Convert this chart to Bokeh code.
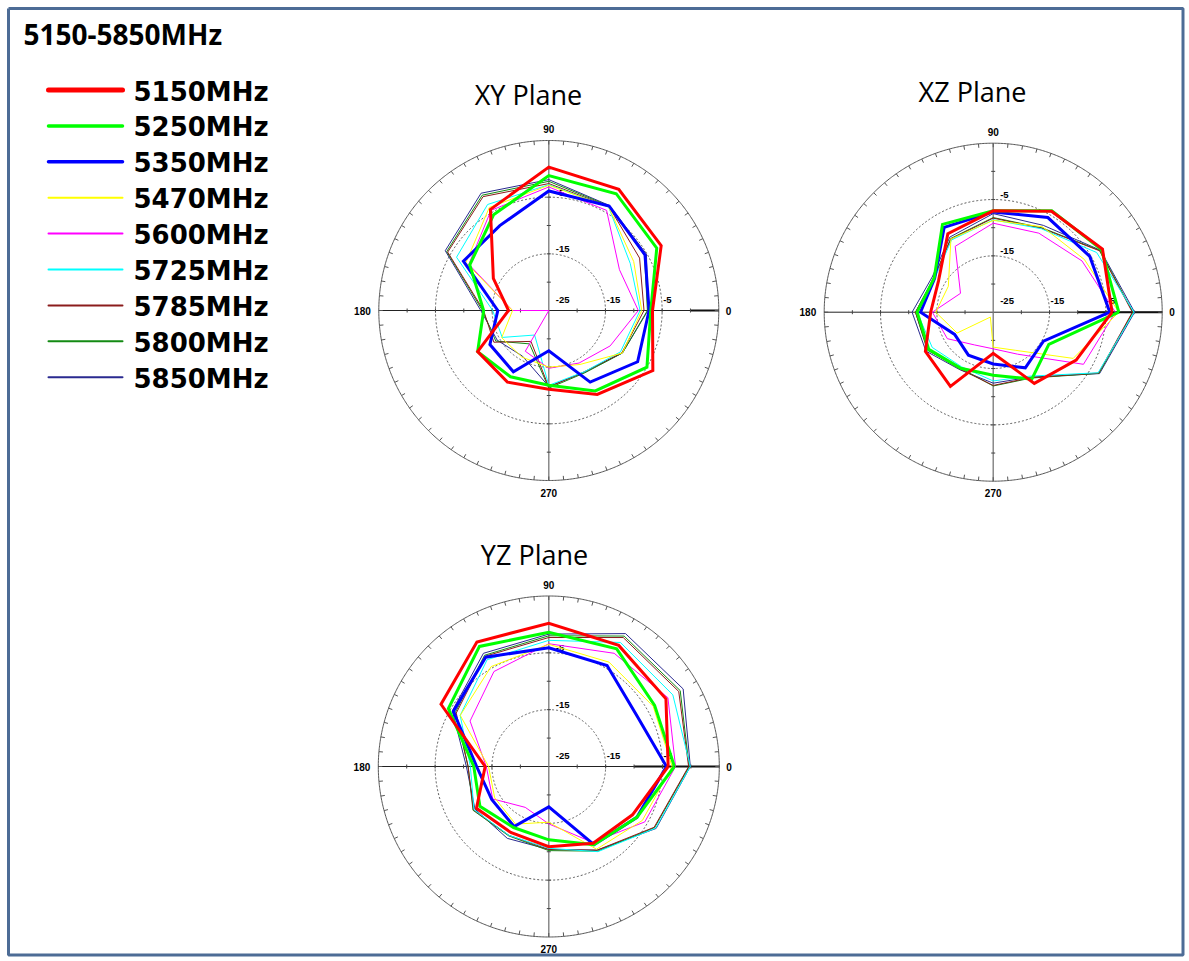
import numpy as np
from bokeh.plotting import figure
from bokeh.models import Range1d
from bokeh.core.properties import value
from bokeh.embed import file_html
from bokeh.resources import INLINE

# ---------------- data ----------------
TITLE = "5150-5850MHz"
ANGLES = [0, 30, 60, 90, 120, 150, 180, 210, 240, 270, 300, 330]
FREQS = ["5150MHz", "5250MHz", "5350MHz", "5470MHz", "5600MHz",
         "5725MHz", "5785MHz", "5800MHz", "5850MHz"]
PLANES = ["XY Plane", "XZ Plane", "YZ Plane"]
RING_LABELS = [-25, -15, -5]
ANGLE_LABELS = ["0", "90", "180", "270"]
R_MIN, R_MAX = -25, 5

XY_5150 = [-6.7, -2.1, -0.3, 0.3, -4.4, -13.7, -17.9, -10.5, -10.4, -11.1, -7.9, -3.8]
XY_5250 = [-7.0, -3.0, -1.2, -1.2, -5.5, -8.9, -13.5, -10.5, -11.5, -11.8, -8.6, -5.0]
XY_5350 = [-7.3, -5.4, -3.7, -3.9, -7.7, -7.6, -16.0, -13.0, -12.5, -17.9, -10.4, -6.9]
XY_5470 = [-8.6, -7.7, -3.9, -2.9, -4.0, -8.1, -18.6, -15.4, -15.5, -15.0, -14.0, -10.0]
XY_5600 = [-9.2, -10.6, -4.6, -3.2, -4.6, -8.7, -18.6, -25.0, -16.7, -14.8, -14.3, -12.5]
XY_5725 = [-8.9, -8.4, -3.9, -2.8, -3.4, -6.2, -15.1, -15.5, -20.0, -11.8, -12.5, -10.4]
XY_5785 = [-8.2, -6.5, -3.8, -2.6, -1.8, -4.4, -13.5, -13.8, -18.7, -11.5, -12.5, -10.1]
XY_5800 = [-7.6, -5.5, -3.7, -2.2, -1.5, -4.2, -13.3, -14.2, -18.2, -11.3, -12.3, -10.0]
XY_5850 = [-7.5, -5.1, -3.6, -1.9, -1.1, -3.9, -13.0, -14.5, -15.7, -11.6, -12.4, -10.0]

XZ_5150 = [-3.9, -2.6, -4.3, -7.0, -8.9, -13.8, -13.9, -11.1, -9.8, -17.7, -10.4, -8.0]
XZ_5250 = [-2.7, -2.8, -4.2, -7.0, -7.0, -12.9, -11.5, -11.8, -13.5, -13.8, -11.3, -13.6]
XZ_5350 = [-4.3, -5.2, -5.6, -7.2, -7.6, -13.0, -12.1, -17.1, -16.2, -15.8, -13.6, -14.7]
XZ_5470 = [-2.7, -6.3, -7.5, -8.7, -10.0, -15.8, -14.8, -17.6, -24.0, -18.8, -17.2, -8.6]
XZ_5600 = [-3.3, -6.8, -8.8, -9.2, -11.5, -18.3, -14.2, -15.6, -18.3, -18.5, -16.4, -6.5]
XZ_5725 = [0.0, -3.8, -7.9, -8.6, -10.2, -13.0, -11.5, -12.5, -13.8, -12.8, -11.9, -3.5]
XZ_5785 = [-0.3, -3.2, -7.8, -8.3, -10.0, -12.9, -11.2, -11.6, -13.3, -12.0, -11.6, -3.4]
XZ_5800 = [-0.2, -3.1, -7.7, -8.2, -9.9, -12.8, -11.2, -11.5, -13.5, -11.9, -11.5, -3.3]
XZ_5850 = [0.1, -3.0, -7.2, -7.5, -9.6, -12.5, -10.6, -11.2, -13.2, -12.4, -11.7, -3.2]

YZ_5150 = [-4.0, -1.2, -0.4, 0.2, 0.3, -3.1, -13.8, -10.3, -11.6, -10.9, -9.4, -8.0]
YZ_5250 = [-2.9, -3.5, -1.1, -1.4, -0.6, -4.6, -11.8, -11.0, -12.6, -12.1, -9.1, -7.1]
YZ_5350 = [-4.3, -7.1, -4.5, -4.1, -2.8, -5.6, -12.3, -13.4, -12.8, -17.9, -9.1, -7.1]
YZ_5470 = [-3.3, -3.8, -3.8, -3.5, -4.7, -7.0, -14.4, -14.0, -13.3, -15.2, -8.2, -6.0]
YZ_5600 = [-2.7, -0.8, -2.0, -3.4, -5.7, -9.0, -14.0, -13.6, -16.7, -14.9, -9.6, -5.5]
YZ_5725 = [-0.1, 0.2, 0.2, -2.8, -3.3, -7.0, -11.2, -9.8, -11.0, -10.6, -7.7, -3.3]
YZ_5785 = [-0.4, 1.4, 1.2, -2.3, -2.6, -6.2, -10.8, -9.7, -11.0, -10.4, -8.0, -3.6]
YZ_5800 = [-0.3, 1.7, 1.5, -2.0, -2.4, -6.0, -10.8, -9.6, -10.9, -10.2, -7.8, -3.5]
YZ_5850 = [-0.1, 2.3, 2.0, -1.7, -2.0, -5.4, -10.5, -10.0, -10.4, -10.4, -8.0, -3.2]

XY_SERIES = [XY_5150, XY_5250, XY_5350, XY_5470, XY_5600, XY_5725, XY_5785, XY_5800, XY_5850]
XZ_SERIES = [XZ_5150, XZ_5250, XZ_5350, XZ_5470, XZ_5600, XZ_5725, XZ_5785, XZ_5800, XZ_5850]
YZ_SERIES = [YZ_5150, YZ_5250, YZ_5350, YZ_5470, YZ_5600, YZ_5725, YZ_5785, YZ_5800, YZ_5850]

# ---------------- style ----------------
COLORS = ["#ff0000", "#00ff00", "#0000ff", "#ffff00", "#ff00ff",
          "#00ffff", "#8b1c1c", "#138a13", "#2a2a90"]
PLOT_WIDTHS = [3, 3, 3, 1, 1, 1, 1, 1, 1]
LEGEND_WIDTHS = [5, 3.5, 3.5, 2, 2, 2, 2, 2, 2]
DRAW_ORDER = [8, 7, 6, 5, 4, 3, 2, 1, 0]

W, H = 1189, 961
p = figure(width=W, height=H, x_range=Range1d(0, W), y_range=Range1d(H, 0),
           output_backend="svg", toolbar_location=None,
           x_axis_type=None, y_axis_type=None, min_border=0)
p.outline_line_color = None
p.background_fill_color = "white"
p.border_fill_color = "white"

# frame
p.line([8, 1182.5, 1182.5, 8, 8], [8, 8, 954.5, 954.5, 8],
       line_color="#4d6c96", line_width=3)

# title
p.text([23], [33], text=[TITLE], text_font=value("Open Sans"), text_font_style="bold",
       text_font_size="28px", text_color="black", text_baseline="middle")

# legend
for i, (f, c) in enumerate(zip(FREQS, COLORS)):
    ly = 89.5 + i * 35.9
    p.line([48, 122], [ly, ly], line_color=c, line_width=LEGEND_WIDTHS[i], line_cap="round")
    p.text([133], [ly + 1.5], text=[f], text_font=value("DejaVu Sans"), text_font_style="bold",
           text_font_size="26px", text_color="black", text_baseline="middle")


def polar_panel(cx, cy, R, series, title, tx, ty, bold_from_db):
    scale = R / (R_MAX - R_MIN)
    th = np.linspace(0, 2 * np.pi, 721)
    # title
    p.text([tx], [ty], text=[title], text_font=value("Open Sans"), text_font_size="27px",
           text_color="black", text_align="center", text_baseline="middle")
    # outer circle
    p.line(cx + R * np.cos(th), cy - R * np.sin(th), line_color="#555555", line_width=1)
    # dashed rings
    for db in RING_LABELS[1:]:
        r = (db - R_MIN) * scale
        p.line(cx + r * np.cos(th), cy - r * np.sin(th), line_color="#555555",
               line_width=1, line_dash="2 2")
    # axes
    p.segment([cx - R], [cy], [cx + R], [cy], line_color="#222222", line_width=1)
    p.segment([cx], [cy - R], [cx], [cy + R], line_color="#777777", line_width=1.3)
    rb = (bold_from_db - R_MIN) * scale
    p.segment([cx + rb], [cy], [cx + R], [cy], line_color="#111111", line_width=2)
    # circle ticks every 5 degrees
    ang = np.deg2rad(np.arange(0, 360, 5))
    p.segment(cx + R * np.cos(ang), cy - R * np.sin(ang),
              cx + (R - 4) * np.cos(ang), cy - (R - 4) * np.sin(ang),
              line_color="#555555", line_width=1)
    # axis ticks every 5 dB
    dbs = np.arange(R_MIN + 5, R_MAX, 5)
    rr = (dbs - R_MIN) * scale
    for sx, sy in [(1, 0), (-1, 0), (0, 1), (0, -1)]:
        px = cx + sx * rr
        py = cy - sy * rr
        if sx != 0:
            p.segment(px, py - 2, px, py + 2, line_color="#444444", line_width=1)
        else:
            p.segment(px - 2, py, px + 2, py, line_color="#444444", line_width=1)
    # angle labels
    lf = dict(text_font=value("Liberation Sans"), text_font_style="bold",
              text_font_size="10px", text_color="black", text_baseline="middle")
    p.text([cx + R + 7], [cy], text=[ANGLE_LABELS[0]], text_align="left", **lf)
    p.text([cx], [cy - R - 11.5], text=[ANGLE_LABELS[1]], text_align="center", **lf)
    p.text([cx - R - 8], [cy], text=[ANGLE_LABELS[2]], text_align="right", **lf)
    p.text([cx], [cy + R + 12], text=[ANGLE_LABELS[3]], text_align="center", **lf)
    # ring labels
    rf = dict(text_font=value("Liberation Sans"), text_font_style="bold",
              text_font_size="9.5px", text_color="black", text_baseline="middle")
    p.text([cx + 7], [cy - 11], text=[str(RING_LABELS[0])], **rf)
    for db in RING_LABELS[1:]:
        r = (db - R_MIN) * scale
        p.text([cx + r + 1], [cy - 11], text=[str(db)], **rf)
        p.text([cx + 7], [cy - r - 4.5], text=[str(db)], **rf)
    # data
    rad = np.deg2rad(ANGLES + [ANGLES[0]])
    for k in DRAW_ORDER:
        vals = np.array(series[k] + [series[k][0]], dtype=float)
        r = (np.clip(vals, R_MIN, R_MAX) - R_MIN) * scale
        p.line(cx + r * np.cos(rad), cy - r * np.sin(rad), line_color=COLORS[k],
               line_width=PLOT_WIDTHS[k], line_join="miter")


polar_panel(548.3, 310, 170, XY_SERIES, PLANES[0], 528, 94, 0)
polar_panel(992.7, 311.7, 169, XZ_SERIES, PLANES[1], 972, 91, -10)
polar_panel(548.3, 766, 170.5, YZ_SERIES, PLANES[2], 534, 554, -10)

open("out.html", "w").write(file_html(p, INLINE))
